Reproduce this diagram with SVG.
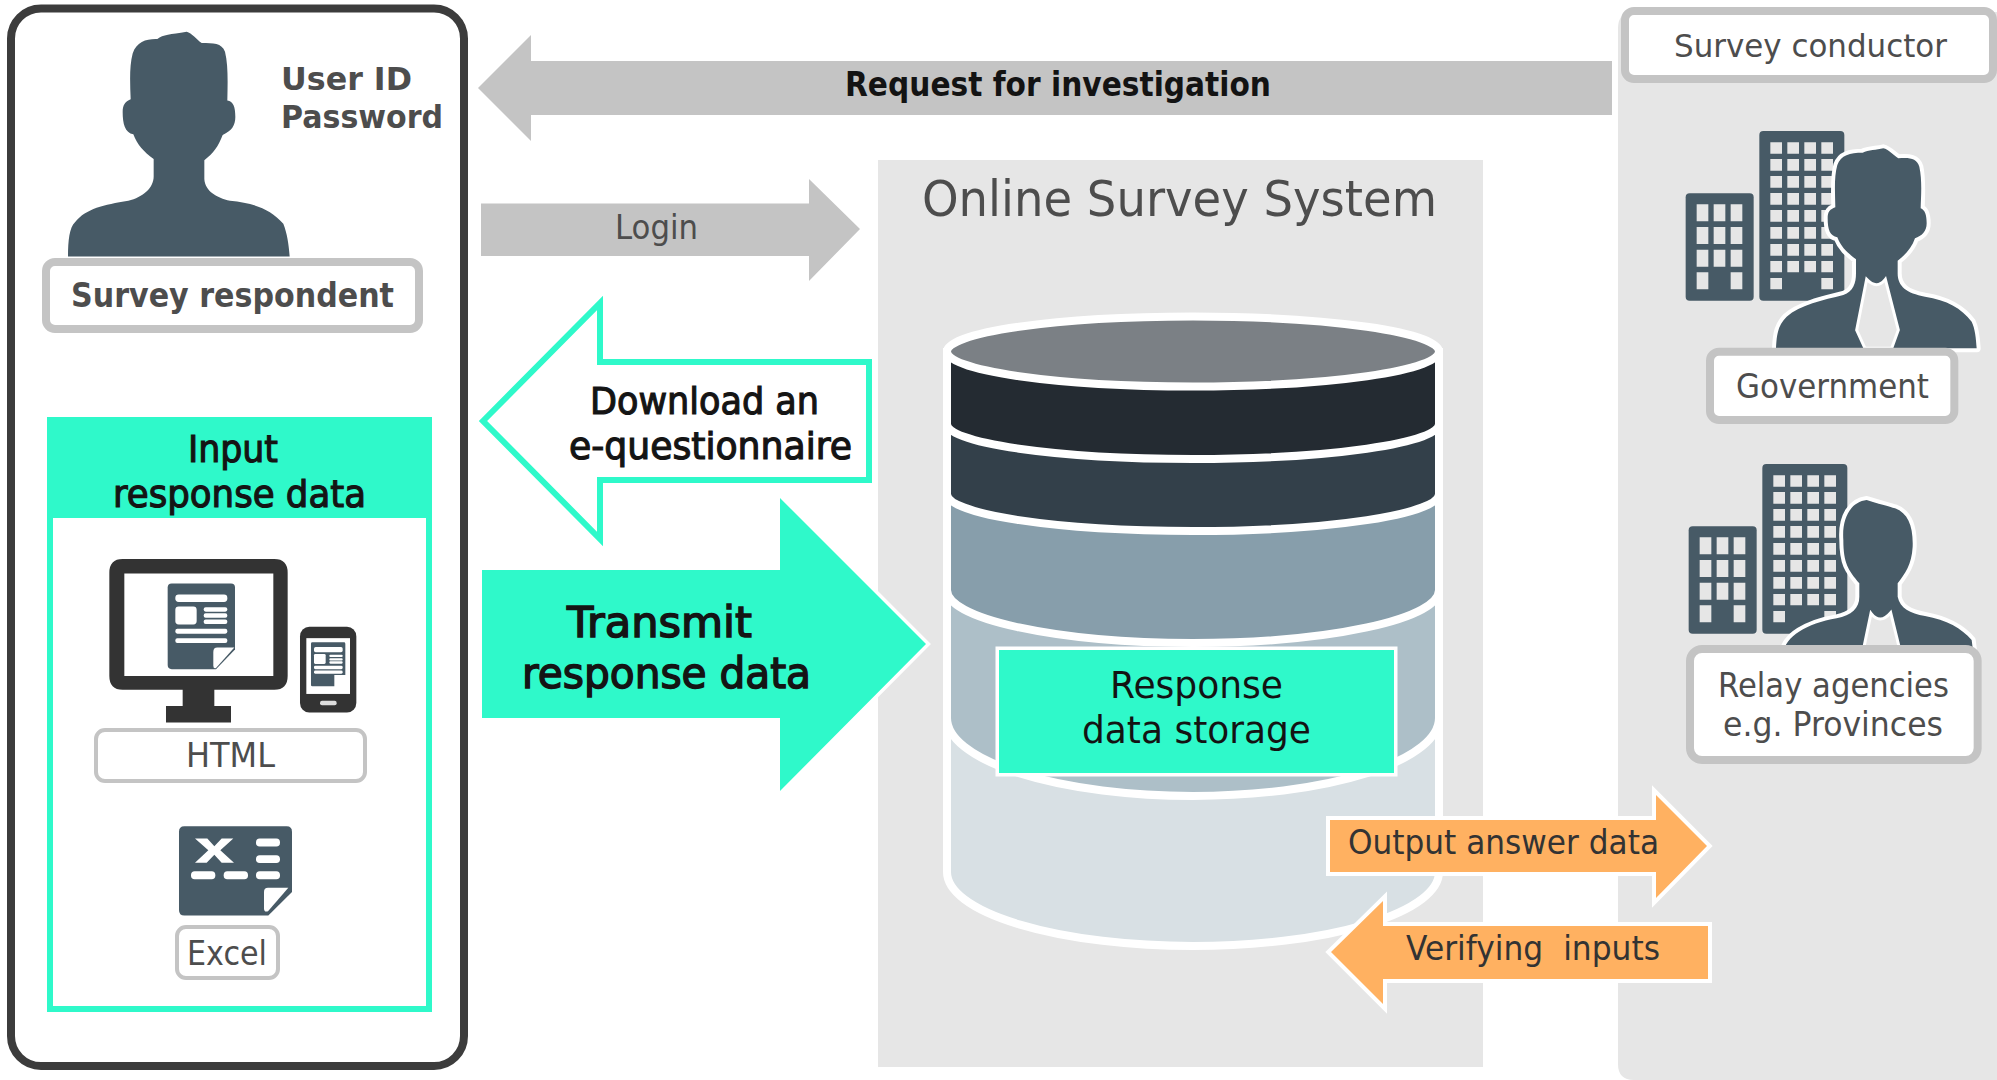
<svg xmlns="http://www.w3.org/2000/svg" width="1997" height="1080" viewBox="0 0 1997 1080">
<style>
text{font-family:"DejaVu Sans","Liberation Sans",sans-serif;fill:#4d4d4d;white-space:pre}
.b{font-weight:700}
.h{fill:#141414;stroke:#141414;stroke-width:1.200}
.d{fill:#131313}
.o{fill:#333}
.slate{fill:#475a66}
.w{fill:#fff}
.win{fill:#e6e6e6}
.lbl{fill:#fff;stroke:#c4c4c4}
.gray{fill:#c4c4c4}
.teal{fill:#2ff9ca}
.orange{fill:#ffb161;stroke:#fff;stroke-width:8;paint-order:stroke}
.band{stroke:#fff;stroke-width:8}
.halo{stroke:#fff;stroke-width:9;paint-order:stroke;stroke-linejoin:round}
.shirt{fill:#e6e6e6;stroke:#fff;stroke-width:9}
</style>
<defs>
<g id="buildings">
<rect class="slate" x="257" y="580" width="204" height="322" rx="12"/>
<rect class="slate" x="478" y="393" width="255" height="509" rx="12"/>
<path class="win" d="M290 613h35v51h-35zM341 613h35v51h-35zM392 613h35v51h-35zM290 681h35v51h-35zM341 681h35v51h-35zM392 681h35v51h-35zM290 749h35v51h-35zM341 749h35v51h-35zM392 749h35v51h-35zM290 817h35v51h-35zM392 817h35v51h-35z"/>
<path class="win" d="M511 427h35v34h-35zM562 427h35v34h-35zM613 427h35v34h-35zM664 427h35v34h-35zM511 477h35v35h-35zM562 477h35v35h-35zM613 477h35v35h-35zM664 477h35v35h-35zM511 528h35v35h-35zM562 528h35v35h-35zM613 528h35v35h-35zM664 528h35v35h-35zM511 579h35v35h-35zM562 579h35v35h-35zM613 579h35v35h-35zM664 579h35v35h-35zM511 630h35v35h-35zM562 630h35v35h-35zM613 630h35v35h-35zM664 630h35v35h-35zM511 681h35v35h-35zM562 681h35v35h-35zM613 681h35v35h-35zM664 681h35v35h-35zM511 732h35v35h-35zM562 732h35v35h-35zM613 732h35v35h-35zM664 732h35v35h-35zM511 783h35v34h-35zM562 783h35v34h-35zM613 783h35v34h-35zM664 783h35v34h-35zM511 834h35v34h-35zM664 834h35v34h-35z"/>
</g>
</defs>

<g id="panel-system">
<rect x="878" y="160" width="605" height="907" fill="#e6e6e6"/>
<text x="922" y="216" font-size="50" textLength="515" lengthAdjust="spacingAndGlyphs">Online Survey System</text>
</g>

<g id="panel-conductor">
<path d="M1618 28Q1618 12 1634 12H1997V1080H1634Q1618 1080 1618 1064Z" fill="#e6e6e6"/>
<rect class="lbl" x="1625" y="11" width="368" height="68" rx="9" stroke-width="8"/>
<text x="1674" y="57" font-size="32" textLength="273" lengthAdjust="spacingAndGlyphs">Survey conductor</text>
</g>

<g id="respondent">
<rect x="11" y="8.500" width="453" height="1057.500" rx="30" fill="#fff" stroke="#3c3c3c" stroke-width="8"/>
<path class="slate" transform="scale(.33333,.34440)" d="M204 745C204 700 208 660 225 645C260 605 310 595 385 583C430 572 462 545 461 510L461 462C430 440 412 420 400 390C375 385 368 360 368 325C368 305 375 295 392 288C390 240 388 190 398 155C410 120 440 112 472 113C490 100 510 100 560 92C575 95 590 115 605 125C640 125 665 125 675 150C685 190 683 240 682 292C700 295 706 310 706 340C706 365 695 380 668 392C655 425 640 445 613 465L613 520C615 555 650 575 690 583C760 590 810 605 850 650C862 680 866 710 869 745Z"/>
<text class="b" x="281" y="90" font-size="32" textLength="131" lengthAdjust="spacingAndGlyphs">User ID</text>
<text class="b" x="281" y="128" font-size="32" textLength="162" lengthAdjust="spacingAndGlyphs">Password</text>
<rect class="lbl" x="46" y="262" width="373" height="67" rx="9" stroke-width="8"/>
<text class="b" x="71" y="306.500" font-size="33" textLength="323" lengthAdjust="spacingAndGlyphs">Survey respondent</text>
</g>

<g id="input-response-data">
<rect x="50" y="420" width="379" height="589" fill="#fff" stroke="#2ff9ca" stroke-width="6"/>
<rect class="teal" x="47" y="417" width="385" height="101"/>
<text class="h" x="188" y="462" font-size="38" textLength="90" lengthAdjust="spacingAndGlyphs">Input</text>
<text class="h" x="113" y="507" font-size="38" textLength="253" lengthAdjust="spacingAndGlyphs">response data</text>
</g>

<g id="html-icons" transform="translate(0,540) scale(.33333,.34440)">
<path fill="#333" fill-rule="evenodd" d="M368 55H823Q863 55 863 95V395Q863 435 823 435H643V482H693V530H498V482H548V435H368Q328 435 328 395V95Q328 55 368 55ZM373 97V395H820V97Z"/>
<path class="slate" d="M515 126H693Q705 126 705 138V318L648 375H515Q503 375 503 363V138Q503 126 515 126Z"/>
<path class="w" d="M640 325Q640 312 652 312H703L648 372Q640 375 640 365Z"/>
<g class="w">
<rect x="526" y="158" width="156" height="22" rx="10"/>
<rect x="526" y="193" width="64" height="52" rx="10"/>
<rect x="611" y="195" width="71" height="13" rx="6"/>
<rect x="611" y="213" width="71" height="13" rx="6"/>
<rect x="611" y="231" width="71" height="13" rx="6"/>
<rect x="526" y="258" width="156" height="14" rx="6"/>
<rect x="526" y="285" width="156" height="14" rx="6"/>
</g>
<rect x="900" y="252" width="169" height="249" rx="28" fill="#333"/>
<rect class="w" x="919" y="285" width="131" height="162"/>
<rect x="960" y="467" width="50" height="13" rx="6" fill="#ddd"/>
<path class="slate" d="M937 297H1032Q1036 297 1036 301V392H1003V425H937Q933 425 933 421V301Q933 297 937 297Z"/>
<g class="w">
<rect x="942" y="311" width="86" height="15" rx="5"/>
<rect x="942" y="331" width="35" height="29" rx="4"/>
<rect x="988" y="333" width="40" height="7" rx="3"/>
<rect x="988" y="343" width="40" height="7" rx="3"/>
<rect x="988" y="352" width="40" height="7" rx="3"/>
<rect x="942" y="365" width="86" height="10" rx="4"/>
<rect x="942" y="379" width="86" height="9" rx="4"/>
</g>
<path class="slate" d="M553 831H860Q876 831 876 847V1022L805 1090H553Q537 1090 537 1074V847Q537 831 553 831Z"/>
<path class="w" d="M792 1022Q792 1010 804 1010H865L804 1078Q792 1082 792 1070Z"/>
<path class="w" d="M585 867H622L643 889L665 867H700L661 901L702 937H665L643 914L620 937H585L625 901Z"/>
<g class="w">
<rect x="768" y="867" width="72" height="23" rx="11"/>
<rect x="768" y="915" width="72" height="23" rx="11"/>
<rect x="768" y="962" width="72" height="23" rx="11"/>
<rect x="573" y="962" width="73" height="23" rx="11"/>
<rect x="671" y="962" width="73" height="23" rx="11"/>
</g>
</g>

<g id="html-label">
<rect class="lbl" x="96" y="730" width="269" height="51" rx="9" stroke-width="4"/>
<text x="186" y="767" font-size="33" textLength="89" lengthAdjust="spacingAndGlyphs">HTML</text>
</g>
<g id="excel-label">
<rect class="lbl" x="177" y="927" width="101" height="51" rx="9" stroke-width="4"/>
<text x="187" y="965" font-size="33" textLength="80" lengthAdjust="spacingAndGlyphs">Excel</text>
</g>

<g id="storage">
<path class="band" fill="#d8e0e4" d="M947 720V872A246 74 0 0 0 1439 872V720Z"/>
<path class="band" fill="#adbfc8" d="M947 580V718A246 78 0 0 0 1439 718V580Z"/>
<path class="band" fill="#879eab" d="M947 470V590A246 53 0 0 0 1439 590V470Z"/>
<path class="band" fill="#33404a" d="M947 420V494A246 37 0 0 0 1439 494V420Z"/>
<path class="band" fill="#242b32" d="M947 352V424A246 35 0 0 0 1439 424V352Z"/>
<ellipse class="band" fill="#7b8085" cx="1193" cy="351.500" rx="246" ry="35"/>
<rect x="999" y="650" width="395" height="123" fill="#2ff9ca" stroke="#fff" stroke-width="7" paint-order="stroke"/>
<text class="d" x="1110" y="698" font-size="37" textLength="173" lengthAdjust="spacingAndGlyphs">Response</text>
<text class="d" x="1082" y="743" font-size="37" textLength="229" lengthAdjust="spacingAndGlyphs">data storage</text>
</g>

<g id="government" transform="translate(1600,0) scale(.33333)">
<use href="#buildings"/>
<path class="slate halo" style="stroke-width:24" d="M528 1045C530 1000 535 975 560 950C600 915 670 900 730 885C760 875 768 850 768 820L768 778C745 760 725 745 712 712C690 708 683 690 683 655C683 635 690 628 706 622C705 575 702 530 712 495C722 465 750 458 788 458C805 450 830 450 850 445C865 448 880 465 895 475C930 472 950 475 958 500C967 540 963 590 962 625C975 630 980 645 980 670C980 695 965 708 945 715C935 745 915 765 893 782L893 820C893 860 920 880 975 890C1040 900 1085 925 1115 965C1125 985 1128 1015 1130 1045Z"/>
<path class="shirt" d="M800 838L770 990L795 1045H875L895 990L856 838Q830 870 800 838Z"/>
<rect class="lbl" x="330" y="1055" width="733" height="205" rx="27" stroke-width="24"/>
</g>
<g id="government-label">
<text x="1736" y="398" font-size="33" textLength="193" lengthAdjust="spacingAndGlyphs">Government</text>
</g>

<g id="relay" transform="translate(1600,440) scale(.33333)">
<use href="#buildings" transform="translate(9,-321)"/>
<path class="slate halo" style="stroke-width:24" d="M550 640C555 590 620 550 710 535C755 525 778 505 778 470L778 430C745 390 730 370 730 300C725 230 755 185 800 180C830 190 870 200 885 205C925 220 940 260 938 320C935 375 915 400 893 430L893 470C900 505 930 520 975 528C1040 540 1085 565 1115 600L1120 640Z"/>
<path class="shirt" d="M813 520L788 640H902L872 518Q840 555 813 520Z"/>
<rect class="lbl" x="270" y="627" width="863" height="333" rx="36" stroke-width="24"/>
</g>
<g id="relay-label">
<text x="1718" y="697" font-size="33" textLength="231" lengthAdjust="spacingAndGlyphs">Relay agencies</text>
<text x="1723" y="736" font-size="33" textLength="220" lengthAdjust="spacingAndGlyphs">e.g. Provinces</text>
</g>

<g id="connectors">
<g id="arrow-request">
<path class="gray" d="M478 88L531 35V61H1612V115H531V141Z"/>
<text class="b" x="845" y="96" font-size="33" style="fill:#131313" textLength="426" lengthAdjust="spacingAndGlyphs">Request for investigation</text>
</g>
<g id="arrow-login">
<path class="gray" d="M481 203.500H809V179L860 229L809 281V256H481Z"/>
<text x="615" y="239" font-size="33" textLength="83" lengthAdjust="spacingAndGlyphs">Login</text>
</g>
<g id="arrow-download">
<path d="M483 421L600 303V362H869V480H600V539Z" fill="#fff" stroke="#2ff9ca" stroke-width="6"/>
<text class="h" x="590" y="414" font-size="38" textLength="229" lengthAdjust="spacingAndGlyphs">Download an</text>
<text class="h" x="569" y="459" font-size="38" textLength="283" lengthAdjust="spacingAndGlyphs">e-questionnaire</text>
</g>
<g id="arrow-transmit">
<path class="teal" stroke="#fff" stroke-width="7" paint-order="stroke" d="M482 570H780V498L926 644L780 791V718H482Z"/>
<text class="h" x="567" y="637" font-size="43.500" textLength="185" lengthAdjust="spacingAndGlyphs" style="stroke-width:1.500">Transmit</text>
<text class="h" x="522" y="688" font-size="43.500" textLength="289" lengthAdjust="spacingAndGlyphs" style="stroke-width:1.500">response data</text>
</g>
<g id="arrow-output">
<path class="orange" d="M1330 820H1656V795L1707 846L1656 898V872H1330Z"/>
<text class="o" x="1348" y="854" font-size="33" textLength="311" lengthAdjust="spacingAndGlyphs">Output answer data</text>
</g>
<g id="arrow-verify">
<path class="orange" d="M1331 952L1383 901V926H1708V979H1383V1004Z"/>
<text class="o" x="1406" y="960" font-size="33" textLength="254" lengthAdjust="spacingAndGlyphs">Verifying  inputs</text>
</g>
</g>
</svg>
